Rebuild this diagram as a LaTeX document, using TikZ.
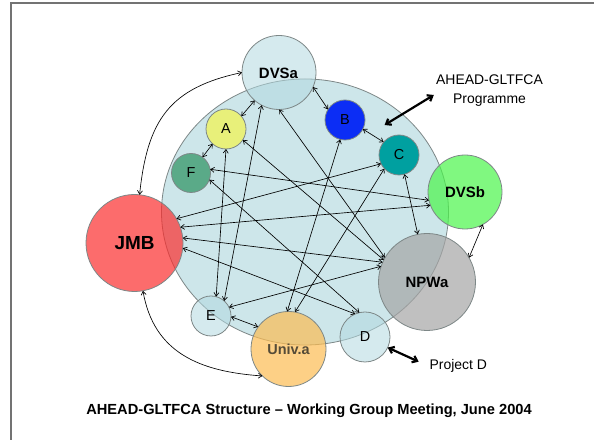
\documentclass[tikz,border=0pt]{standalone}
\usepackage{fontspec}
\setmainfont{Liberation Sans}
\usetikzlibrary{arrows.meta}
\definecolor{ellbg}{RGB}{205,230,234}
\definecolor{lightfill}{RGB}{179,217,224}
\definecolor{cA}{RGB}{232,240,122}
\definecolor{cB}{RGB}{12,45,245}
\definecolor{cC}{RGB}{0,160,160}
\definecolor{cF}{RGB}{90,170,136}
\definecolor{cDVSb}{RGB}{74,245,74}
\definecolor{cJMB}{RGB}{251,45,45}
\definecolor{cNPWa}{RGB}{165,165,165}
\definecolor{cUniv}{RGB}{252,188,82}
\definecolor{rimgray}{RGB}{125,135,135}
\definecolor{framegray}{RGB}{115,115,115}
\definecolor{univtext}{RGB}{85,75,55}
\tikzset{
  bub/.style={circle, inner sep=0pt, outer sep=0pt, draw=rimgray, line width=0.8bp},
  glassbub/.style={circle, inner sep=0pt, outer sep=0pt, draw=rimgray, line width=0.8bp, fill opacity=0.7, text opacity=1},
  lightbub/.style={circle, inner sep=0pt, outer sep=0pt, draw=rimgray, line width=0.8bp, fill=lightfill, fill opacity=0.55, text opacity=1},
  boldlbl/.style={font=\fontsize{15}{15}\selectfont\bfseries},
  ltr/.style={font=\fontsize{14.5}{14.5}\selectfont},
  conn/.style={draw=black, line width=0.65bp, {Straight Barb[length=3.6bp,width=5bp]}-{Straight Barb[length=3.6bp,width=5bp]}},
  bigconn/.style={draw=black, line width=2.2bp, {Straight Barb[length=4.5bp,width=7bp]}-{Straight Barb[length=4.5bp,width=7bp]}},
  plain/.style={font=\fontsize{14}{14}\selectfont}
}
\begin{document}
\begin{tikzpicture}[x=1bp,y=1bp]
\useasboundingbox (0,0) rectangle (594,440);
% frame
\draw[framegray, line width=2bp] (11,0) -- (11,437) -- (594,437);
% programme ellipse
\path[fill=ellbg, draw=rimgray, line width=0.8bp] (305,228) ellipse [x radius=143.5, y radius=133];
% members
\node[lightbub, minimum size=74bp] (dvsa) at (279,367.5) {};
\node[bub, fill=cA, minimum size=40bp, ltr] (a) at (226,311) {A};
\node[bub, fill=cF, minimum size=39bp, ltr] (f) at (191,267) {F};
\node[bub, fill=cB, minimum size=40bp, ltr] (b) at (345,320) {B};
\node[bub, fill=cC, minimum size=40bp, ltr] (c) at (399,285) {C};
\node[glassbub, fill=cDVSb, minimum size=74bp, boldlbl] (dvsb) at (465,248) {DVSb};
\node[glassbub, fill=cJMB, minimum size=97bp, font=\fontsize{19}{19}\selectfont\bfseries] (jmb) at (134.5,197) {JMB};
\node[glassbub, fill=cNPWa, minimum size=97bp, boldlbl] (npwa) at (427,158) {NPWa};
\node[lightbub, minimum size=40bp, ltr] (e) at (211,124) {E};
\node[glassbub, fill=cUniv, minimum size=75bp, font=\fontsize{14.5}{14.5}\selectfont\bfseries, text=univtext] (univ) at (288.5,91) {Univ.a};
\node[lightbub, minimum size=50bp, ltr] (d) at (365,103) {D};
% DVSa label, hidden where the programme ellipse covers it
\begin{scope}
  \clip (250.1,350.9) arc[start angle=112.5, end angle=85, x radius=143.5, y radius=133] -- (320,440) -- (250.1,440) -- cycle;
  \node[boldlbl] (dvsalbl) at (278.5,366.8) {DVSa};
\end{scope}
% connectors
\draw[conn] (jmb.84) to[out=84,in=192,looseness=1.2] (dvsa.180);
\draw[conn] (jmb.280) to[out=280,in=176,looseness=1.1] (univ.226);
\draw[conn] (dvsa.229) -- (a.40);
\draw[conn] (dvsa.337) -- (b.148);
\draw[conn] (b.333) -- (c.140);
\draw[conn] (a.228) -- (f.54);
\draw[conn] (a.270) -- (e.75);
\draw[conn] (dvsa.242) -- (e.49);
\draw[conn] (dvsa.270) -- (npwa.150);
\draw[conn] (a.327) -- (npwa.153);
\draw[conn] (f.11) -- (dvsb.193);
\draw[conn] (f.340) -- (d.103);
\draw[conn] (jmb.30) -- (c.206);
\draw[conn] (jmb.19) -- (dvsb.201);
\draw[conn] (jmb.6) -- (npwa.156);
\draw[conn] (jmb.354) -- (d.113);
\draw[conn] (e.26) -- (npwa.161);
\draw[conn] (e.358) -- (univ.144);
\draw[conn] (b.256) -- (univ.92);
\draw[conn] (c.223) -- (univ.80);
\draw[conn] (c.286) -- (npwa.101);
\draw[conn] (dvsb.299) -- (npwa.30);
% annotations
\coordinate (progin) at (384.6,315);
\coordinate (progout) at (433.8,345);
\draw[bigconn] (progin) -- (progout);
\node[plain, anchor=base] (progtitle) at (489.5,355) {AHEAD-GLTFCA};
\node[plain, anchor=base] (progname) at (489.5,336.7) {Programme};
\coordinate (projout) at (418.7,78.3);
\draw[bigconn] (d.335) -- (projout);
\node[plain, anchor=base] (projlbl) at (458.3,70) {Project D};
\node[anchor=base, font=\fontsize{14.7}{14.7}\selectfont\bfseries] (caption) at (309,25.7) {AHEAD-GLTFCA Structure – Working Group Meeting, June 2004};
\end{tikzpicture}
\end{document}
